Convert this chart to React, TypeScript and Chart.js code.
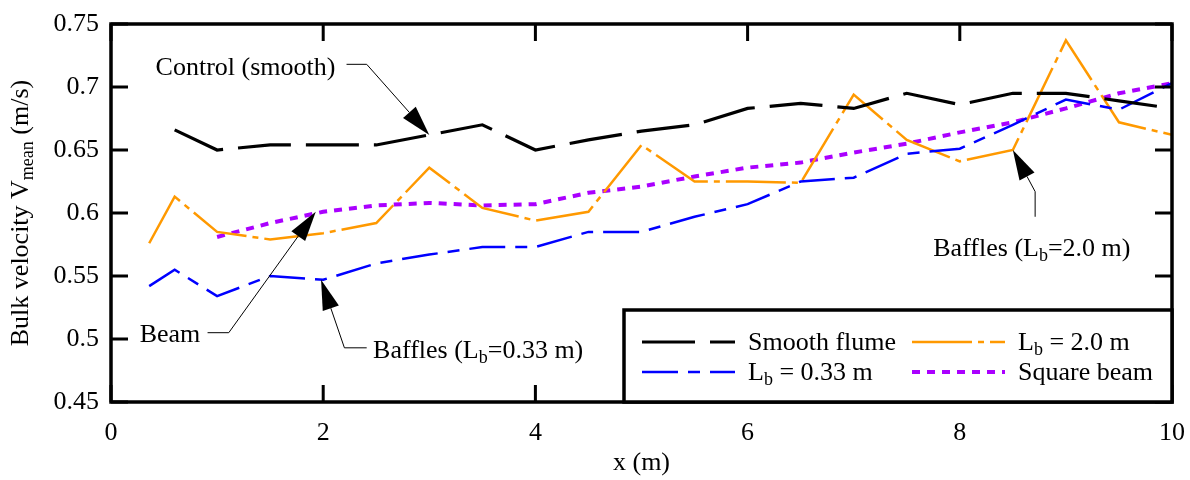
import React, { useEffect, useRef } from 'react';
import { Chart, registerables } from 'chart.js';

Chart.register(...registerables);

// ---------- data ----------
const X_TICKS = [0, 2, 4, 6, 8, 10];
const Y_TICKS = [0.45, 0.5, 0.55, 0.6, 0.65, 0.7, 0.75];

const xSmooth = [0.6, 1, 1.5, 2, 2.5, 3, 3.5, 4, 4.5, 5, 5.5, 6, 6.5, 7, 7.5, 8, 8.5, 9, 9.5, 10];
const vSmooth = [0.666, 0.65, 0.654, 0.654, 0.654, 0.662, 0.67, 0.65, 0.658, 0.665, 0.67, 0.683, 0.687, 0.683, 0.695, 0.686, 0.695, 0.695, 0.689, 0.683];

const xBaffles = [0.36, 0.6, 1, 1.5, 2, 2.5, 3, 3.5, 4, 4.5, 5, 5.5, 6, 6.5, 7, 7.5, 8, 8.5, 9, 9.5, 10];
const vLb033 = [0.542, 0.555, 0.534, 0.55, 0.547, 0.56, 0.567, 0.573, 0.573, 0.585, 0.585, 0.597, 0.607, 0.625, 0.628, 0.647, 0.651, 0.67, 0.69, 0.682, 0.703];
const vLb20 = [0.576, 0.613, 0.585, 0.579, 0.584, 0.592, 0.636, 0.604, 0.594, 0.601, 0.654, 0.625, 0.625, 0.624, 0.694, 0.658, 0.641, 0.65, 0.737, 0.672, 0.662];

const xBeam = [1, 1.5, 2, 2.5, 3, 3.5, 4, 4.5, 5, 5.5, 6, 6.5, 7, 7.5, 8, 8.5, 9, 9.5, 10];
const vBeam = [0.581, 0.592, 0.601, 0.606, 0.608, 0.606, 0.607, 0.616, 0.621, 0.629, 0.636, 0.64, 0.648, 0.655, 0.664, 0.672, 0.683, 0.695, 0.703];

// ---------- styling / annotation anchors (data units) ----------
const FONT = '"Liberation Serif", "Times New Roman", serif';
const FS = 26;
const SUB = 18;

type Seg = { t: string; sub?: boolean };

const ANNOTATIONS: { text: Seg[]; at: [number, number]; path: [number, number][] }[] = [
  { text: [{ t: 'Control (smooth)' }], at: [0.42, 0.716], path: [[2.22, 0.718], [2.41, 0.718], [3.0, 0.662]] },
  { text: [{ t: 'Beam' }], at: [0.27, 0.504], path: [[0.91, 0.505], [1.11, 0.505], [1.93, 0.601]] },
  { text: [{ t: 'Baffles (L' }, { t: 'b', sub: true }, { t: '=0.33 m)' }], at: [2.47, 0.491], path: [[2.41, 0.493], [2.2, 0.493], [1.98, 0.547]] },
  { text: [{ t: 'Baffles (L' }, { t: 'b', sub: true }, { t: '=2.0 m)' }], at: [7.75, 0.572], path: [[8.71, 0.597], [8.71, 0.617], [8.5, 0.65]] },
];

const toPts = (xs: number[], ys: number[]) => xs.map((x, i) => ({ x, y: ys[i] }));

function richWidth(ctx: CanvasRenderingContext2D, segs: Seg[]) {
  let w = 0;
  for (const s of segs) {
    ctx.font = `${s.sub ? SUB : FS}px ${FONT}`;
    w += ctx.measureText(s.t).width;
  }
  return w;
}

function drawRich(ctx: CanvasRenderingContext2D, segs: Seg[], x: number, y: number) {
  let cx = x;
  ctx.textAlign = 'left';
  ctx.textBaseline = 'alphabetic';
  for (const s of segs) {
    ctx.font = `${s.sub ? SUB : FS}px ${FONT}`;
    ctx.fillText(s.t, cx, y + 8 + (s.sub ? 5 : 0));
    cx += ctx.measureText(s.t).width;
  }
}

function drawArrow(ctx: CanvasRenderingContext2D, pts: [number, number][]) {
  ctx.save();
  ctx.strokeStyle = '#000';
  ctx.fillStyle = '#000';
  ctx.lineWidth = 1;
  ctx.setLineDash([]);
  const n = pts.length;
  const [tx, ty] = pts[n - 1];
  const [px, py] = pts[n - 2];
  const ang = Math.atan2(ty - py, tx - px);
  const L = 30, W = 8.5;
  const bx = tx - L * Math.cos(ang), by = ty - L * Math.sin(ang);
  ctx.beginPath();
  ctx.moveTo(pts[0][0], pts[0][1]);
  for (let i = 1; i < n - 1; i++) ctx.lineTo(pts[i][0], pts[i][1]);
  ctx.lineTo(bx, by);
  ctx.stroke();
  ctx.beginPath();
  ctx.moveTo(tx, ty);
  ctx.lineTo(bx + W * Math.sin(ang), by - W * Math.cos(ang));
  ctx.lineTo(bx - W * Math.sin(ang), by + W * Math.cos(ang));
  ctx.closePath();
  ctx.fill();
  ctx.restore();
}

const decorPlugin = {
  id: 'decor',
  afterDraw(chart: any) {
    const ctx: CanvasRenderingContext2D = chart.ctx;
    const { left, right, top, bottom } = chart.chartArea;
    const xs = chart.scales.x, ys = chart.scales.y;
    ctx.save();
    ctx.strokeStyle = '#000';
    ctx.fillStyle = '#000';
    ctx.setLineDash([]);

    // ticks (inward)
    ctx.lineWidth = 3;
    const TL = 17;
    for (const v of X_TICKS) {
      const px = xs.getPixelForValue(v);
      ctx.beginPath();
      ctx.moveTo(px, bottom); ctx.lineTo(px, bottom - TL);
      ctx.moveTo(px, top); ctx.lineTo(px, top + TL);
      ctx.stroke();
    }
    for (const v of Y_TICKS) {
      const py = ys.getPixelForValue(v);
      ctx.beginPath();
      ctx.moveTo(left, py); ctx.lineTo(left + TL, py);
      ctx.moveTo(right, py); ctx.lineTo(right - TL, py);
      ctx.stroke();
    }

    // tick labels
    ctx.font = `${FS}px ${FONT}`;
    ctx.textAlign = 'center';
    ctx.textBaseline = 'middle';
    for (const v of X_TICKS) ctx.fillText(String(v), xs.getPixelForValue(v), bottom + 31);
    ctx.textAlign = 'right';
    for (const v of Y_TICKS) ctx.fillText(String(v), left - 12, ys.getPixelForValue(v));

    // axis titles
    ctx.textAlign = 'center';
    ctx.fillText('x (m)', (left + right) / 2, bottom + 61);
    const ySegs: Seg[] = [{ t: 'Bulk velocity V' }, { t: 'mean', sub: true }, { t: ' (m/s)' }];
    ctx.save();
    ctx.translate(20, (top + bottom) / 2);
    ctx.rotate(-Math.PI / 2);
    const w = richWidth(ctx, ySegs);
    drawRich(ctx, ySegs, -w / 2, 0);
    ctx.restore();

    // annotations
    for (const a of ANNOTATIONS) {
      const pts = a.path.map(([x, y]) => [xs.getPixelForValue(x), ys.getPixelForValue(y)] as [number, number]);
      drawArrow(ctx, pts);
      ctx.fillStyle = '#000';
      drawRich(ctx, a.text, xs.getPixelForValue(a.at[0]), ys.getPixelForValue(a.at[1]));
    }

    // frame
    ctx.lineWidth = 3.5;
    ctx.strokeRect(left, top, right - left, bottom - top);

    // legend
    const lw = 548, lh = 92;
    const lx = right - lw, ly = bottom - lh;
    ctx.fillStyle = '#fff';
    ctx.fillRect(lx, ly, lw, lh);
    ctx.lineWidth = 3.5;
    ctx.strokeStyle = '#000';
    ctx.strokeRect(lx, ly, lw, lh);
    const ds = chart.data.datasets;
    const entries: { i: number; col: number; row: number; label: Seg[] }[] = [
      { i: 0, col: 0, row: 0, label: [{ t: 'Smooth flume' }] },
      { i: 2, col: 1, row: 0, label: [{ t: 'L' }, { t: 'b', sub: true }, { t: ' = 2.0 m' }] },
      { i: 1, col: 0, row: 1, label: [{ t: 'L' }, { t: 'b', sub: true }, { t: ' = 0.33 m' }] },
      { i: 3, col: 1, row: 1, label: [{ t: 'Square beam' }] },
    ];
    for (const e of entries) {
      const d = ds[e.i];
      const x0 = lx + 18 + e.col * 270;
      const yy = ly + 32 + e.row * 30;
      ctx.save();
      ctx.strokeStyle = d.borderColor;
      ctx.lineWidth = d.borderWidth;
      ctx.setLineDash(d.borderDash || []);
      ctx.beginPath();
      ctx.moveTo(x0, yy); ctx.lineTo(x0 + 93, yy);
      ctx.stroke();
      ctx.restore();
      ctx.fillStyle = '#000';
      drawRich(ctx, e.label, x0 + 106, yy);
    }
    ctx.restore();
  },
};

export default function App() {
  const ref = useRef<HTMLCanvasElement>(null);
  useEffect(() => {
    document.body.style.margin = '0';
    const chart = new Chart(ref.current!, {
      type: 'line',
      data: {
        datasets: [
          { label: 'Smooth flume', data: toPts(xSmooth, vSmooth), borderColor: '#000000', borderWidth: 3.2, borderDash: [53, 15] },
          { label: 'Lb = 0.33 m', data: toPts(xBaffles, vLb033), borderColor: '#0000ff', borderWidth: 2.5, borderDash: [36, 10, 12, 10] },
          { label: 'Lb = 2.0 m', data: toPts(xBaffles, vLb20), borderColor: '#ff9900', borderWidth: 2.5, borderDash: [60, 6, 6, 6] },
          { label: 'Square beam', data: toPts(xBeam, vBeam), borderColor: '#aa00ff', borderWidth: 4, borderDash: [8, 7] },
        ].map((d) => ({ ...d, pointRadius: 0, tension: 0, fill: false, borderJoinStyle: 'miter' as const })),
      },
      options: {
        animation: false,
        responsive: false,
        layout: { padding: { top: 24, right: 18, left: 0, bottom: 0 } },
        plugins: { legend: { display: false }, tooltip: { enabled: false } },
        scales: {
          x: {
            type: 'linear', min: 0, max: 10,
            ticks: { display: false, stepSize: 2 },
            grid: { display: false, drawTicks: false },
            border: { display: false },
            afterFit: (s: any) => { s.height = 78; },
          },
          y: {
            type: 'linear', min: 0.45, max: 0.75,
            ticks: { display: false, stepSize: 0.05 },
            grid: { display: false, drawTicks: false },
            border: { display: false },
            afterFit: (s: any) => { s.width = 111; },
          },
        },
      },
      plugins: [decorPlugin],
    });
    return () => chart.destroy();
  }, []);
  return (
    <div style={{ position: 'absolute', left: 0, top: 0, width: 1190, height: 480, background: '#fff' }}>
      <canvas ref={ref} width={1190} height={480} style={{ width: 1190, height: 480, display: 'block' }} />
    </div>
  );
}
